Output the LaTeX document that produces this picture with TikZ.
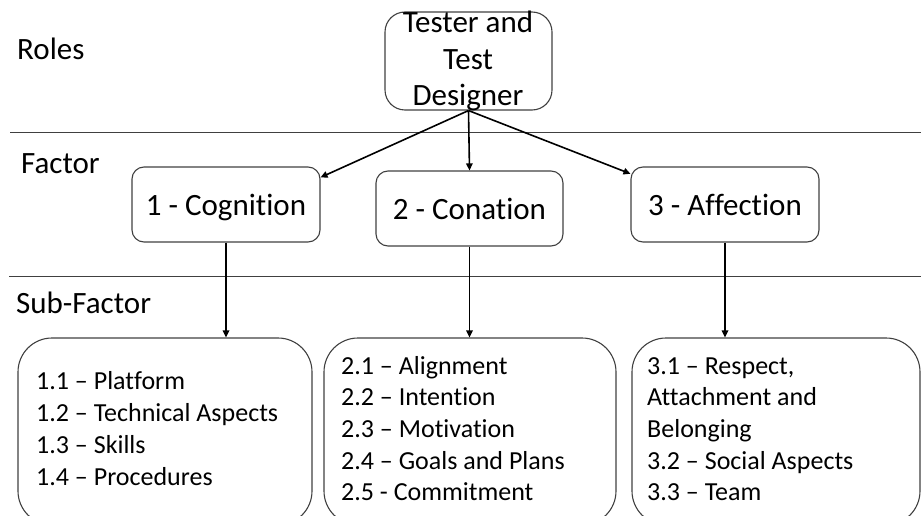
\documentclass[tikz,border=0pt]{standalone}
\usepackage{fontspec}
\setmainfont[Ligatures=NoCommon]{Carlito}
\usetikzlibrary{arrows.meta}
\definecolor{edgegray}{RGB}{64,64,64}
\newcommand{\bigtext}{\fontsize{31}{36.6}\selectfont}
\newcommand{\smalltext}{\fontsize{26}{31.7}\selectfont}
\begin{document}
\begin{tikzpicture}[x=1pt,y=-1pt,
  rolebox/.style={draw=edgegray,line width=1.1pt,rounded corners=20pt,
    minimum width=167pt,minimum height=98pt,inner sep=0pt},
  factorbox/.style={draw=edgegray,line width=1.1pt,rounded corners=12pt,
    minimum width=188pt,minimum height=75pt,inner sep=0pt,font=\bigtext,
    text height=26pt,text depth=5pt},
  subbox/.style={draw=edgegray,line width=1.1pt,rounded corners=34pt,
    minimum height=187pt,inner sep=0pt},
  levellabel/.style={anchor=base west,inner sep=0pt,font=\bigtext},
  listtext/.style={anchor=base west,inner sep=0pt,align=left,font=\smalltext},
  sepline/.style={draw=edgegray,line width=1pt},
  arr/.style={draw=black,line width=1.6pt,-{Triangle[length=7pt,width=6.5pt]}}]

\useasboundingbox (0,0) rectangle (921,516);
\clip (0,0) rectangle (921,516);

% level separators
\draw[sepline] (10,132.5) -- (921,132.5);
\draw[sepline] (9,276) -- (921,276);

% level names
\node[levellabel] (roles) at (17,60) {Roles};
\node[levellabel] (factor) at (21,174) {Factor};
\node[levellabel] (subfactor) at (16,313) {Sub-Factor};

% role (multi-line texts are placed by the baseline of their last line)
\node[rolebox] (tester) at (468.5,61) {};
\node[anchor=base,inner sep=0pt,align=center,font=\bigtext] (testertxt)
  at (468,106) {Tester and\\Test\\Designer};

% factors
\node[factorbox] (cog) at (226,204.5) {1 - Cognition};
\node[factorbox,minimum width=187pt] (con) at (469.5,208.5) {2 - Conation};
\node[factorbox] (aff) at (725,204.5) {3 - Affection};

% sub-factors
\node[subbox,minimum width=294pt] (sub1) at (165,431.5) {};
\node[subbox,minimum width=292pt] (sub2) at (470,431.5) {};
\node[subbox,minimum width=288pt] (sub3) at (776,431.5) {};

\node[listtext] (list1) at (36,485)
  {1.1 – Platform\\1.2 – Technical Aspects\\1.3 – Skills\\1.4 – Procedures};
\node[listtext] (list2) at (341,500.8)
  {2.1 – Alignment\\2.2 – Intention\\2.3 – Motivation\\2.4 – Goals and Plans\\2.5 - Commitment};
\node[listtext] (list3) at (647,500.8)
  {3.1 – Respect,\\Attachment and\\Belonging\\3.2 – Social Aspects\\3.3 – Team};

% connectors
\draw[arr] (tester.south) -- (cog.16);
\draw[arr] (tester.south) -- (con.north);
\draw[arr] (tester.south) -- (aff.162);
\draw[arr] (cog.south) -- (cog.south |- sub1.north);
\draw[arr] (con.south) -- (con.south |- sub2.north);
\draw[arr] (aff.south) -- (aff.south |- sub3.north);
\end{tikzpicture}
\end{document}
